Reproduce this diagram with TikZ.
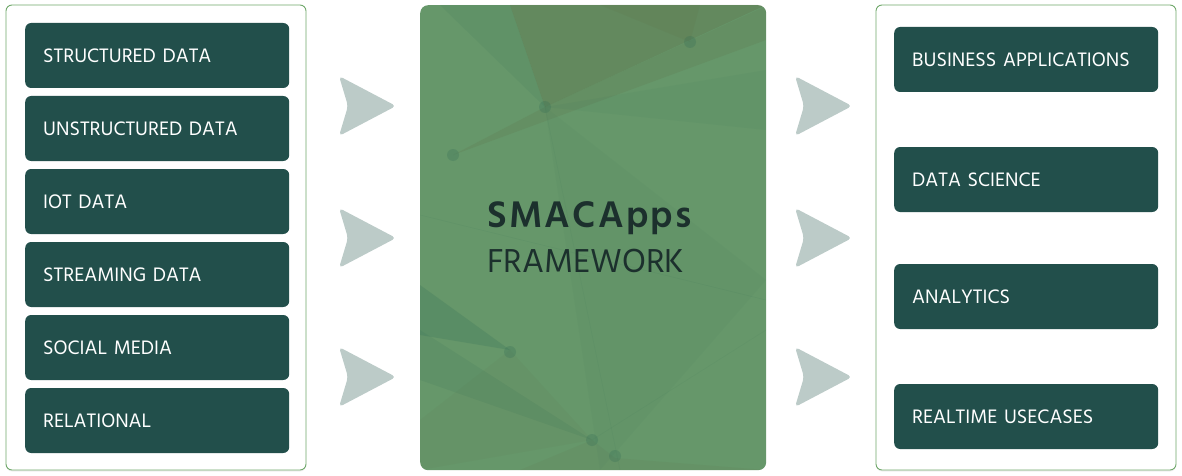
\documentclass[tikz,border=0pt]{standalone}
\usepackage{fontspec}
\setmainfont{Hind Siliguri}
\usetikzlibrary{shadows}
\definecolor{boxfill}{HTML}{224F4B}
\definecolor{panelline}{HTML}{6FA86A}
\definecolor{arrowcol}{HTML}{BCCBC8}
\definecolor{centerfill}{HTML}{66976A}
\definecolor{titlecol}{HTML}{1C302D}
\definecolor{darkA}{HTML}{5E6B44}
\definecolor{darkB}{HTML}{2F6A55}
\tikzset{
  panel/.style={draw=panelline, line width=0.9pt, fill=white, rounded corners=6pt,
    drop shadow={opacity=0.12, shadow xshift=0pt, shadow yshift=-1.5pt}},
  databox/.style={fill=boxfill, rounded corners=6pt, minimum height=65pt,
    text width=228pt, inner xsep=18pt, inner ysep=0pt, align=left, text=white,
    font=\fontsize{20}{22}\selectfont, anchor=west},
  chevron/.style={fill=arrowcol, rounded corners=4pt},
}
\begin{document}
\begin{tikzpicture}[x=1pt,y=-1pt]
\useasboundingbox (0,0) rectangle (1182,476);
% side panels
\path[panel] (6,5) rectangle (306,470);
\path[panel] (876,5) rectangle (1176,470);
% center panel
\node[fill=centerfill, rounded corners=8pt, minimum width=346pt, minimum height=465pt,
  inner sep=0pt, anchor=north west] (frame) at (420,5) {};
\begin{scope}
  \clip[rounded corners=8pt] (420,5) rectangle (766,470);
  \fill[darkA, opacity=0.30] (510,5) -- (766,5) -- (545,107) -- cycle;
  \fill[darkA, opacity=0.18] (453,155) -- (545,107) -- (766,6) -- (766,40) -- cycle;
  \fill[darkB, opacity=0.10] (440,5) -- (510,5) -- (545,107) -- cycle;
  \fill[darkA, opacity=0.12] (600,5) -- (700,5) -- (690,42) -- cycle;
  \fill[darkB, opacity=0.06] (545,107) -- (766,70) -- (766,130) -- cycle;
  \fill[darkB, opacity=0.22] (420,285) -- (510,350) -- (420,335) -- cycle;
  \fill[darkB, opacity=0.12] (420,330) -- (592,440) -- (420,380) -- cycle;
  \fill[darkA, opacity=0.08] (510,350) -- (592,440) -- (420,470) -- (420,420) -- cycle;
  \fill[darkA, opacity=0.10] (592,440) -- (615,458) -- (766,470) -- (520,470) -- cycle;
  \fill[darkB, opacity=0.05] (545,107) -- (600,470) -- (766,280) -- cycle;
  \draw[darkB, opacity=0.10, line width=0.5pt] (420,215) -- (766,300);
  \draw[darkB, opacity=0.08, line width=0.5pt] (545,107) -- (620,470);
  \draw[darkB, opacity=0.08, line width=0.5pt] (766,330) -- (592,440);
  \foreach \p in {(545,107),(453,155),(690,42),(510,352),(592,440),(615,456)}
    \fill[darkB, opacity=0.25] \p circle (6pt);
\end{scope}
\node[text=titlecol, inner sep=0pt, anchor=base west,
  font=\fontsize{38}{40}\selectfont\bfseries\addfontfeatures{LetterSpace=6}] (title) at (487,227) {SMACApps};
\node[text=titlecol, inner sep=0pt, anchor=base west,
  font=\fontsize{34}{38}\selectfont] (subtitle) at (487,272) {FRAMEWORK};
% left boxes
\node[databox] (l1) at (25,55.5) {STRUCTURED DATA};
\node[databox] (l2) at (25,128.5) {UNSTRUCTURED DATA};
\node[databox] (l3) at (25,201.5) {IOT DATA};
\node[databox] (l4) at (25,274.5) {STREAMING DATA};
\node[databox] (l5) at (25,347.5) {SOCIAL MEDIA};
\node[databox] (l6) at (25,420.5) {RELATIONAL};
% right boxes
\node[databox] (r1) at (894,59.5) {BUSINESS APPLICATIONS};
\node[databox] (r2) at (894,179.5) {DATA SCIENCE};
\node[databox] (r3) at (894,296.5) {ANALYTICS};
\node[databox] (r4) at (894,416.5) {REALTIME USECASES};
% chevrons
\foreach \x in {339,795}{
  \foreach \y in {106,238,377}{
    \fill[chevron] (\x,\y-30) -- (\x+57,\y) -- (\x,\y+30) -- (\x+9,\y) -- cycle;
  }
}
\end{tikzpicture}
\end{document}
